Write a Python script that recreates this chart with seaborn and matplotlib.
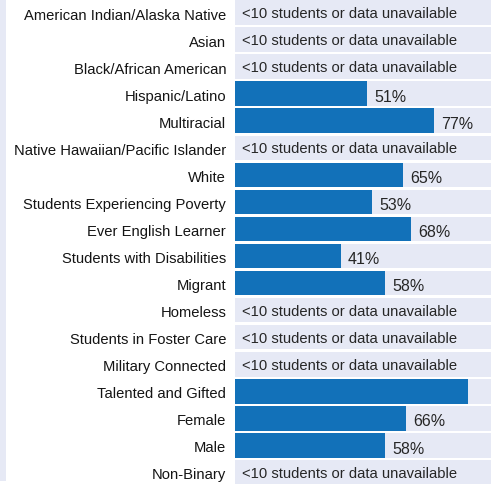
import matplotlib
matplotlib.use("Agg")
import matplotlib.pyplot as plt
import matplotlib.transforms as mtransforms
from matplotlib.patches import Rectangle
import numpy as np
import pandas as pd
import seaborn as sns

groups = [
    "American Indian/Alaska Native",
    "Asian",
    "Black/African American",
    "Hispanic/Latino",
    "Multiracial",
    "Native Hawaiian/Pacific Islander",
    "White",
    "Students Experiencing Poverty",
    "Ever English Learner",
    "Students with Disabilities",
    "Migrant",
    "Homeless",
    "Students in Foster Care",
    "Military Connected",
    "Talented and Gifted",
    "Female",
    "Male",
    "Non-Binary",
]
rates = [np.nan, np.nan, np.nan, 51, 77, np.nan, 65, 53, 68, 41, 58,
         np.nan, np.nan, np.nan, 90, 66, 58, np.nan]
missing_text = "<10 students or data unavailable"

XMAX = 99.0
BAND = "#E6E9F5"
BLUE = "#1271B9"
TEXT = "#141414"

sns.set_theme(style="white")
plt.rcParams["font.family"] = ["Liberation Sans", "DejaVu Sans"]

df = pd.DataFrame({"group": groups, "rate": rates, "band": [XMAX] * len(groups)})

fig = plt.figure(figsize=(4.91, 4.84), dpi=100)
fig.patch.set_facecolor("white")
fig.patches.append(Rectangle((0, 0.006), 6 / 491, 0.994, transform=fig.transFigure,
                             facecolor=BAND, edgecolor="none", zorder=0))

ax = fig.add_axes([234.5 / 491, -0.004, 1 - 234.5 / 491, 1.006])
ax.set_facecolor("white")

# background bands for every group
sns.barplot(data=df, x="band", y="group", order=groups, color=BAND, width=0.91,
            saturation=1, orient="h", ax=ax, errorbar=None)
# measured rates on top
sns.barplot(data=df, x="rate", y="group", order=groups, color=BLUE, width=0.91,
            saturation=1, orient="h", ax=ax, errorbar=None)

for p in ax.patches:
    p.set_edgecolor("none")

ax.set_xlim(0, XMAX)
ax.set_ylim(len(groups) - 0.5, -0.5)
ax.set_xlabel("")
ax.set_ylabel("")
ax.set_xticks([])
ax.tick_params(axis="y", length=0, pad=6, labelsize=10.6, labelcolor=TEXT)
for s in ax.spines.values():
    s.set_visible(False)

# nudge all text slightly downward within its row
shift = mtransforms.ScaledTranslation(0, -1.5 / 100, fig.dpi_scale_trans)
for lbl in ax.get_yticklabels():
    lbl.set_transform(lbl.get_transform() + shift)

for i, v in enumerate(rates):
    if np.isnan(v):
        ax.text(2.8, i, missing_text, va="center", ha="left", fontsize=10.6,
                color="#262626", transform=ax.transData + shift)
    elif v + 16 < XMAX:
        ax.text(v + 2.8, i + 0.08, f"{v:.0f}%", va="center", ha="left",
                fontsize=11.5, color="#262626", transform=ax.transData + shift)

fig.savefig("out.png", dpi=100, facecolor="white")
